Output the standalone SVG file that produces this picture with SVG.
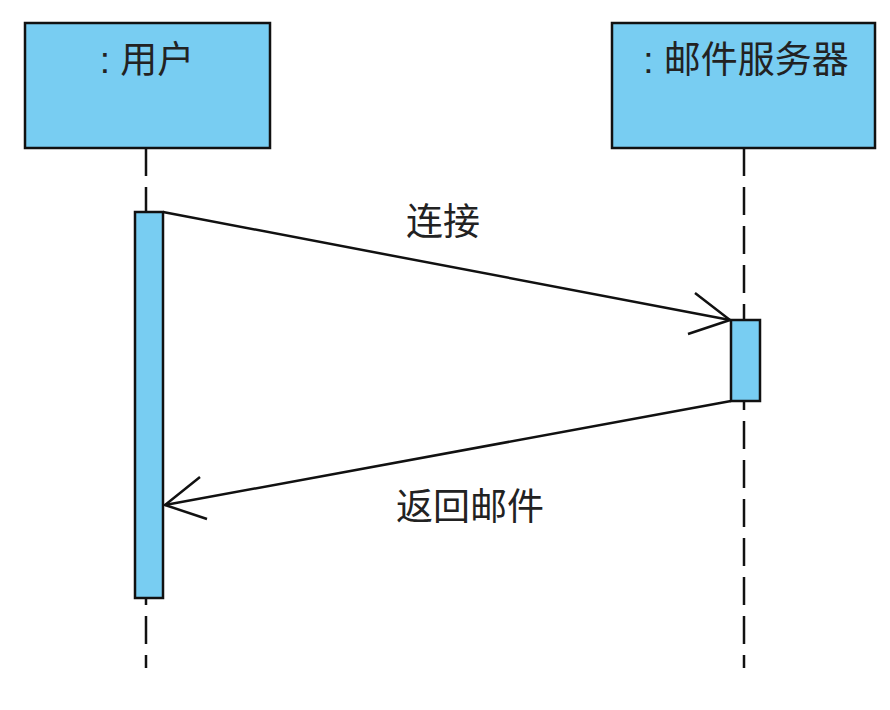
<svg xmlns="http://www.w3.org/2000/svg" width="890" height="710" viewBox="0 0 890 710">
<style>
.box{fill:#78cdf2;stroke:#111;stroke-width:2.5}
.life{stroke:#111;stroke-width:2.5;stroke-dasharray:28 11;fill:none}
.msg{stroke:#111;stroke-width:2.5;fill:none}
.t{font-family:"Liberation Sans","Noto Sans CJK SC",sans-serif;font-size:37px;fill:#222;text-anchor:middle}
</style>
<rect width="890" height="710" fill="#fff"/>
<g id="user">
<line class="life" x1="146" y1="148" x2="146" y2="668"/>
<rect class="box" x="25" y="23" width="245" height="125"/>
<text class="t" x="147" y="73">: 用户</text>
<rect class="box" x="135" y="212" width="28" height="386"/>
</g>
<g id="server">
<line class="life" x1="744" y1="148" x2="744" y2="668"/>
<rect class="box" x="612" y="23" width="263" height="125"/>
<text class="t" x="746" y="73">: 邮件服务器</text>
<rect class="box" x="731" y="320" width="29" height="81"/>
</g>
<g id="connectors">
<line class="msg" x1="163" y1="212" x2="730" y2="320"/>
<polyline class="msg" points="695,293 730,320 688,334"/>
<text class="t" x="443" y="235">连接</text>
<line class="msg" x1="731" y1="401" x2="165" y2="505"/>
<polyline class="msg" points="200,477 165,505 207,519"/>
<text class="t" x="470" y="520">返回邮件</text>
</g>
</svg>
